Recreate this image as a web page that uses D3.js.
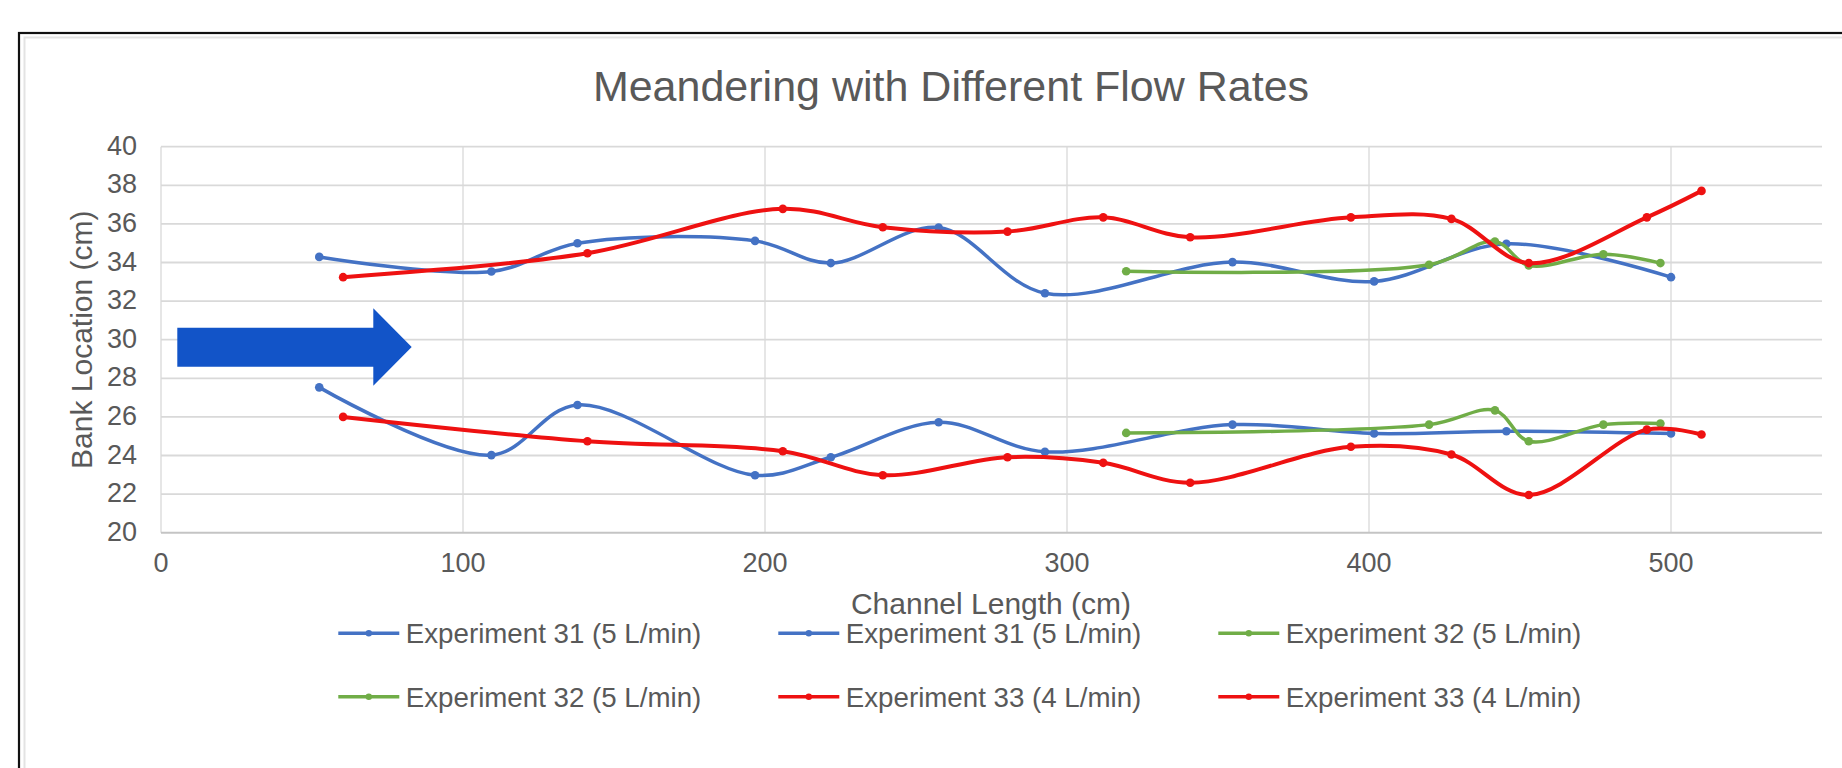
<!DOCTYPE html>
<html>
<head>
<meta charset="utf-8">
<script src="https://cdn.jsdelivr.net/npm/d3@7"></script>
<style>
  html, body { margin: 0; padding: 0; background: #fff; }
  svg { display: block; }
  text { font-family: "Liberation Sans", Arial, sans-serif; fill: #595959; }
</style>
</head>
<body>
<svg id="chart" width="1842" height="768"></svg>
<script>
// Channel positions (cm) where each experiment's banks were measured
const exp31X = [52.4, 109.4, 137.9, 196.7, 221.8, 257.5, 292.7, 354.8, 401.7, 445.5, 500];
const exp31Top = [34.29, 33.53, 35.0, 35.12, 33.97, 35.81, 32.41, 34.02, 33.02, 34.97, 33.24];
const exp31Bottom = [27.53, 24.02, 26.62, 22.98, 23.91, 25.72, 24.19, 25.6, 25.14, 25.26, 25.14];

const exp32X = [319.6, 419.9, 441.7, 452.9, 477.6, 496.5];
const exp32Top = [33.55, 33.88, 35.09, 33.85, 34.43, 33.97];
const exp32Bottom = [25.17, 25.6, 26.34, 24.74, 25.6, 25.66];

const exp33X = [60.3, 141.2, 205.9, 239.0, 280.3, 312.0, 340.8, 394.0, 427.3, 452.9, 492.0, 510.1];
const exp33Top = [33.24, 34.48, 36.78, 35.83, 35.6, 36.34, 35.31, 36.34, 36.26, 33.97, 36.34, 37.71];
const exp33Bottom = [26.0, 24.74, 24.22, 22.98, 23.91, 23.62, 22.59, 24.45, 24.05, 21.95, 25.34, 25.09];

const seriesNames = [
  "Experiment 31 (5 L/min)", "Experiment 31 (5 L/min)",
  "Experiment 32 (5 L/min)", "Experiment 32 (5 L/min)",
  "Experiment 33 (4 L/min)", "Experiment 33 (4 L/min)"
];
const xTicks = [0, 100, 200, 300, 400, 500];
const yTicks = [20, 22, 24, 26, 28, 30, 32, 34, 36, 38, 40];

const colors = { e31: "#4472c4", e32: "#70ad47", e33: "#ee1111" };

const series = [
  { name: seriesNames[0], xs: exp31X, ys: exp31Top, color: colors.e31, width: 3.5 },
  { name: seriesNames[1], xs: exp31X, ys: exp31Bottom, color: colors.e31, width: 3.5 },
  { name: seriesNames[2], xs: exp32X, ys: exp32Top, color: colors.e32, width: 3.5 },
  { name: seriesNames[3], xs: exp32X, ys: exp32Bottom, color: colors.e32, width: 3.5 },
  { name: seriesNames[4], xs: exp33X, ys: exp33Top, color: colors.e33, width: 4 },
  { name: seriesNames[5], xs: exp33X, ys: exp33Bottom, color: colors.e33, width: 4 }
];

const svg = d3.select("#chart");

// Frame around the chart
svg.append("rect").attr("x", 19).attr("y", 33).attr("width", 1900).attr("height", 800)
  .attr("fill", "none").attr("stroke", "#111").attr("stroke-width", 2.2);
svg.append("rect").attr("x", 24.5).attr("y", 37.5).attr("width", 1900).attr("height", 800)
  .attr("fill", "none").attr("stroke", "#e3e3e3").attr("stroke-width", 2);

const x = d3.scaleLinear().domain([0, 550]).range([161, 1822]);
const y = d3.scaleLinear().domain([20, 40]).range([532.7, 146.7]);

// Horizontal gridlines
svg.append("g").selectAll("line").data(yTicks.slice(1)).join("line")
  .attr("x1", x(0)).attr("x2", x(550))
  .attr("y1", d => y(d)).attr("y2", d => y(d))
  .attr("stroke", "#d9d9d9").attr("stroke-width", 1.8);

// Vertical gridlines
svg.append("g").selectAll("line").data(xTicks).join("line")
  .attr("x1", d => x(d)).attr("x2", d => x(d))
  .attr("y1", y(40)).attr("y2", y(20))
  .attr("stroke", "#d9d9d9").attr("stroke-width", 1.3);

// Horizontal axis line
svg.append("line").attr("x1", x(0)).attr("x2", x(550))
  .attr("y1", y(20)).attr("y2", y(20))
  .attr("stroke", "#c4c4c4").attr("stroke-width", 2);

// Y tick labels
svg.append("g").selectAll("text").data(yTicks).join("text")
  .attr("x", 137).attr("y", d => y(d)).attr("dy", "0.3em")
  .attr("text-anchor", "end").attr("font-size", 27)
  .text(d => d);

// X tick labels
svg.append("g").selectAll("text").data(xTicks).join("text")
  .attr("x", d => x(d)).attr("y", 572)
  .attr("text-anchor", "middle").attr("font-size", 27)
  .text(d => d);

// Title and axis titles
svg.append("text").attr("x", 951).attr("y", 101).attr("text-anchor", "middle")
  .attr("font-size", 43).text("Meandering with Different Flow Rates");
svg.append("text").attr("x", 991).attr("y", 614).attr("text-anchor", "middle")
  .attr("font-size", 30).text("Channel Length (cm)");
svg.append("text").attr("transform", "translate(91.7," + y(30) + ") rotate(-90)")
  .attr("text-anchor", "middle").attr("font-size", 30).text("Bank Location (cm)");

// Smoothed series lines with point markers
const line = d3.line().x(d => x(d[0])).y(d => y(d[1])).curve(d3.curveCatmullRom.alpha(0.5));
series.forEach(s => {
  const pts = s.xs.map((v, i) => [v, s.ys[i]]);
  const g = svg.append("g");
  g.append("path").attr("d", line(pts)).attr("fill", "none")
    .attr("stroke", s.color).attr("stroke-width", s.width)
    .attr("stroke-linejoin", "round").attr("stroke-linecap", "round");
  g.selectAll("circle").data(pts).join("circle")
    .attr("cx", d => x(d[0])).attr("cy", d => y(d[1])).attr("r", 4.3)
    .attr("fill", s.color);
});

// Flow direction arrow
svg.append("path")
  .attr("d", "M177.3,327.7 L373.3,327.7 L373.3,308.3 L411.7,347 L373.3,385.7 L373.3,366.7 L177.3,366.7 Z")
  .attr("fill", "#1254c8");

// Legend, three columns by two rows
const legend = svg.append("g");
series.forEach((s, i) => {
  const col = i % 3, row = Math.floor(i / 3);
  const lx = 338.3 + col * 440, ly = 633.3 + row * 63.4;
  const item = legend.append("g");
  item.append("line").attr("x1", lx).attr("x2", lx + 61).attr("y1", ly).attr("y2", ly)
    .attr("stroke", s.color).attr("stroke-width", 3.5);
  item.append("circle").attr("cx", lx + 30.5).attr("cy", ly).attr("r", 3.2).attr("fill", s.color);
  item.append("text").attr("x", lx + 67.5).attr("y", ly + 10).attr("font-size", 27.7).text(s.name);
});
</script>
</body>
</html>
